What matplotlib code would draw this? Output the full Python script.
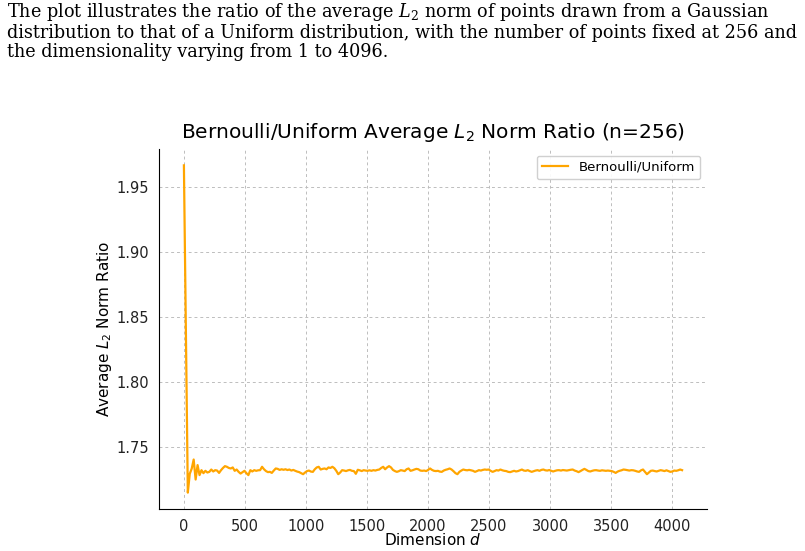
import numpy as np
import matplotlib
matplotlib.use("Agg")
import matplotlib.pyplot as plt

# ── données : d = 1, 17, 33, ... (pas de 16) ─────────────────────────────────
dims = np.arange(1, 4097, 16)

ratio = [
    1.9670, 1.8400, 1.7150, 1.7295, 1.7335, 1.7405, 1.7251, 1.7362, 1.7285, 1.7323,
    1.7300, 1.7318, 1.7305, 1.7310, 1.7328, 1.7313, 1.7323, 1.7320, 1.7302, 1.7323,
    1.7340, 1.7354, 1.7349, 1.7340, 1.7336, 1.7344, 1.7318, 1.7328, 1.7310, 1.7297,
    1.7308, 1.7318, 1.7300, 1.7285, 1.7323, 1.7313, 1.7323, 1.7318, 1.7322, 1.7323,
    1.7349, 1.7330, 1.7316, 1.7308,
    # d ~ 700 .. 1400
    1.7310, 1.7302, 1.7320, 1.7336, 1.7333, 1.7325, 1.7330, 1.7326, 1.7330, 1.7324,
    1.7328, 1.7320, 1.7325, 1.7318, 1.7312, 1.7308, 1.7300, 1.7292, 1.7305, 1.7316,
    1.7320, 1.7312, 1.7310, 1.7330, 1.7344, 1.7349, 1.7328, 1.7333, 1.7336, 1.7330,
    1.7344, 1.7340, 1.7349, 1.7338, 1.7318, 1.7292, 1.7305, 1.7323, 1.7320, 1.7316,
    1.7322, 1.7325, 1.7318, 1.7316,
    # d ~ 1400 .. 2100
    1.7295, 1.7326, 1.7322, 1.7316, 1.7323, 1.7320, 1.7318, 1.7322, 1.7318, 1.7323,
    1.7320, 1.7325, 1.7328, 1.7340, 1.7349, 1.7330, 1.7344, 1.7354, 1.7344, 1.7325,
    1.7316, 1.7310, 1.7315, 1.7323, 1.7320, 1.7316, 1.7330, 1.7336, 1.7318, 1.7322,
    1.7328, 1.7333, 1.7330, 1.7320, 1.7318, 1.7320, 1.7316, 1.7325, 1.7336, 1.7325,
    1.7318, 1.7316, 1.7318,
    # d ~ 2100 .. 2800
    1.7312, 1.7310, 1.7320, 1.7326, 1.7330, 1.7336, 1.7328, 1.7315, 1.7300, 1.7292,
    1.7310, 1.7320, 1.7328, 1.7324, 1.7322, 1.7325, 1.7322, 1.7318, 1.7310, 1.7316,
    1.7323, 1.7320, 1.7325, 1.7328, 1.7326, 1.7328, 1.7318, 1.7310, 1.7316, 1.7323,
    1.7320, 1.7328, 1.7322, 1.7318, 1.7316, 1.7310, 1.7308, 1.7313, 1.7318, 1.7313,
    1.7316, 1.7322, 1.7328, 1.7320,
    # d ~ 2800 .. 3480
    1.7318, 1.7323, 1.7316, 1.7310, 1.7315, 1.7320, 1.7323, 1.7318, 1.7325, 1.7328,
    1.7322, 1.7320, 1.7324, 1.7318, 1.7313, 1.7318, 1.7322, 1.7323, 1.7320, 1.7324,
    1.7322, 1.7320, 1.7323, 1.7326, 1.7328, 1.7320, 1.7315, 1.7308, 1.7316, 1.7325,
    1.7333, 1.7325, 1.7316, 1.7313, 1.7318, 1.7322, 1.7323, 1.7320, 1.7318, 1.7322,
    1.7320, 1.7318, 1.7320,
    # d ~ 3490 .. 4081
    1.7318, 1.7316, 1.7310, 1.7302, 1.7312, 1.7318, 1.7322, 1.7328, 1.7326, 1.7323,
    1.7320, 1.7323, 1.7322, 1.7318, 1.7313, 1.7310, 1.7322, 1.7328, 1.7310, 1.7292,
    1.7305, 1.7318, 1.7320, 1.7316, 1.7313, 1.7318, 1.7323, 1.7320, 1.7316, 1.7322,
    1.7316, 1.7310, 1.7313, 1.7320, 1.7318, 1.7322, 1.7328, 1.7323,
]
assert len(ratio) == len(dims)

CAPTION = ("The plot illustrates the ratio of the average $L_2$ norm of points drawn from a Gaussian\n"
           "distribution to that of a Uniform distribution, with the number of points fixed at 256 and\n"
           "the dimensionality varying from 1 to 4096.")

# ── tracé ────────────────────────────────────────────────────────────────────
fig = plt.figure(figsize=(8.05, 5.51), dpi=100)

fig.text(7 / 805, 1 - 1 / 551, CAPTION, ha="left", va="top",
         family="DejaVu Serif", fontsize=12.7, linespacing=1.07,
         math_fontfamily="dejavuserif")

ax = fig.add_axes([159 / 805, 42 / 551, 548 / 805, 360 / 551])
ax.plot(dims, ratio, color="#FFA500", linewidth=1.6, label="Bernoulli/Uniform")

ax.set_title("Bernoulli/Uniform Average $L_2$ Norm Ratio (n=256)", fontsize=14.5, pad=8)
ax.set_xlabel("Dimension $d$", fontsize=11, labelpad=-1)
ax.set_ylabel("Average $L_2$ Norm Ratio", fontsize=11, labelpad=2)

ax.grid(True, linestyle=(0, (3, 3)), color="#bdbdbd", linewidth=0.7)
ax.set_axisbelow(True)
for side in ("top", "right"):
    ax.spines[side].set_visible(False)
ax.tick_params(axis="both", length=0, pad=7, labelsize=10.5, labelcolor="#222222")
ax.legend(loc="upper right", fontsize=9.5, framealpha=0.92)

fig.savefig("out.png", dpi=100)
